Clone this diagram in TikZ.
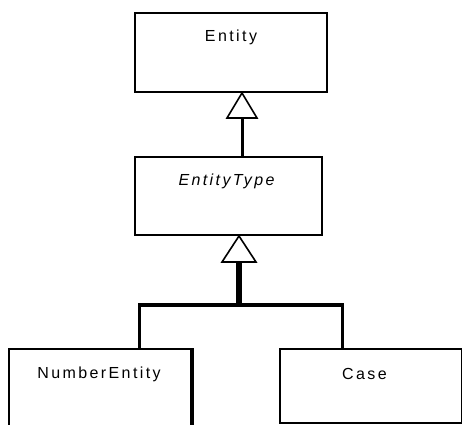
\documentclass[tikz,border=0pt]{standalone}
\usepackage{fontspec}
\newfontfamily\umlfont[LetterSpace=15]{Liberation Sans}
\begin{document}
\begin{tikzpicture}[x=1pt,y=-1pt,
  box/.style={draw,line width=2pt,fill=white,inner sep=0pt},
  lbl/.style={font=\umlfont\fontsize{16}{18}\selectfont,inner sep=0pt},
  tri/.style={draw,line width=1.6pt,fill=white,line join=miter},
  conn/.style={line width=3pt}]
\useasboundingbox (0,0) rectangle (462,424);
\clip (0,0) rectangle (462,424);
% boxes
\node[box,minimum width=192pt,minimum height=79pt] (ent) at (231,52.5) {};
\node[box,minimum width=187pt,minimum height=78pt] (et) at (228.5,196) {};
\node[box,minimum width=182pt,minimum height=100pt] (ne) at (100,399) {};
\node[box,minimum width=182pt,minimum height=74pt] (cs) at (370.5,386) {};
\draw[line width=3.5pt] (ne.north east) -- (ne.south east);
% labels
\node[lbl] (entl) at ([yshift=-25pt]ent.north) {Entity};
\node[lbl,font=\umlfont\itshape\fontsize{16}{18}\selectfont] (etl) at ([xshift=-2pt,yshift=-25pt]et.north) {EntityType};
\node[lbl] (nel) at ([xshift=-1pt,yshift=-26pt]ne.north) {NumberEntity};
\node[lbl] (csl) at ([xshift=-6pt,yshift=-26pt]cs.north) {Case};
% generalization 1
\coordinate (a1) at (242,93);
\coordinate (b1) at (242,118);
\draw[conn] (b1) -- (b1 |- et.north);
\draw[tri] (a1) -- (227,118) -- (257,118) -- cycle;
% generalization 2
\coordinate (a2) at (239,236);
\coordinate (b2) at (239,262);
\coordinate (j) at (239,305);
\draw[line width=6pt] (b2) -- (j);
\draw[line width=4pt] (139,305) -- (342,305);
\draw[conn] (139,303) -- (139,349);
\draw[conn] (342,303) -- (342,349);
\draw[tri] (a2) -- (222,262) -- (256,262) -- cycle;
\end{tikzpicture}
\end{document}
